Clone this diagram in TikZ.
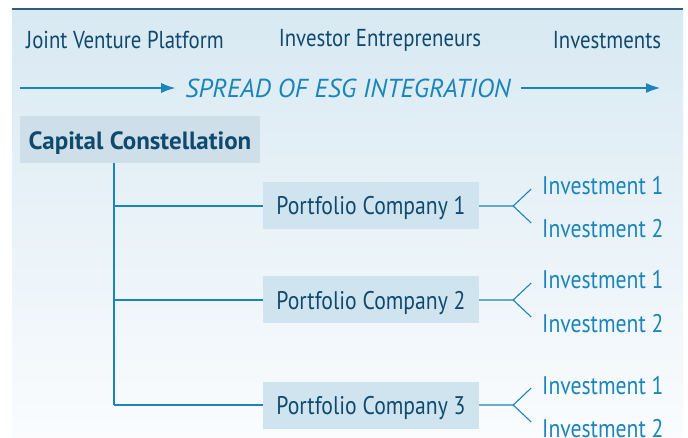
\documentclass[tikz,border=0pt]{standalone}
\usepackage{fontspec}
\setmainfont{PT Sans}[FakeStretch=0.85, BoldFeatures={FakeStretch=1.0}, ItalicFeatures={FakeStretch=1.0}]
\usetikzlibrary{calc, arrows.meta, positioning}
\definecolor{navy}{HTML}{0F4A6E}
\definecolor{esgblue}{HTML}{1A84BB}
\definecolor{boxfill}{HTML}{D0E4EF}
\definecolor{capfill}{HTML}{CEDFE9}
\definecolor{paneltop}{HTML}{D8E9F2}
\definecolor{panelbot}{HTML}{FAFCFE}
\definecolor{rule}{HTML}{2A5F7F}
\begin{document}
\begin{tikzpicture}[x=1pt, y=-1pt,
  head/.style={text=navy, font=\fontsize{24.5}{27}\selectfont},
  pcbox/.style={fill=boxfill, text=navy, minimum width=216pt, minimum height=47pt, inner sep=0pt, text height=18pt, text depth=0pt, font=\fontsize{25.5}{28}\selectfont},
  invest/.style={text=esgblue, anchor=base west, inner sep=0pt, font=\fontsize{25.5}{28}\selectfont},
  link/.style={esgblue, line width=1.1pt}]
\useasboundingbox (0,0) rectangle (688,438);
\shade[top color=paneltop, bottom color=panelbot] (12,9) rectangle (683,438);
\draw[rule, line width=1.5pt] (12,9) -- (683,9);
\node[head] (jv) at (125,40) {Joint Venture Platform};
\node[head] (ie) at (380,40) {Investor Entrepreneurs};
\node[head] (inv) at (607,40) {Investments};
\node[text=esgblue, inner sep=10pt, font=\fontsize{26}{28}\selectfont\itshape] (esg) at (348,88) {SPREAD OF ESG INTEGRATION};
\coordinate (l) at (20,88);
\coordinate (r) at (660,88);
\draw[link, -{Latex[length=14pt, width=10pt]}] (l) -- (esg.west);
\draw[link, -{Latex[length=14pt, width=10pt]}] (esg.east) -- (r);
\node[fill=capfill, text=navy, minimum width=240pt, minimum height=47pt, inner sep=0pt, text height=20pt, text depth=0pt, font=\fontsize{25}{28}\selectfont\bfseries] (cap) at (140,140) {Capital Constellation};
\coordinate (t0) at (114,163);
\foreach \i/\y in {1/206, 2/300, 3/405} {
  \node[pcbox] (pc\i) at (371,\y) {Portfolio Company \i};
  \draw[link] (t0 |- pc\i) -- (pc\i.west);
  \coordinate (f\i) at ($(pc\i.east)+(34,0)$);
  \draw[link] (pc\i.east) -- (f\i) -- ++(18,-17);
  \draw[link] (f\i) -- ++(18,17);
  \node[invest] (a\i) at (542,\y-11) {Investment 1};
  \node[invest] (b\i) at (542,\y+32) {Investment 2};
}
\draw[link] (t0) -- (t0 |- pc3);
\end{tikzpicture}
\end{document}
